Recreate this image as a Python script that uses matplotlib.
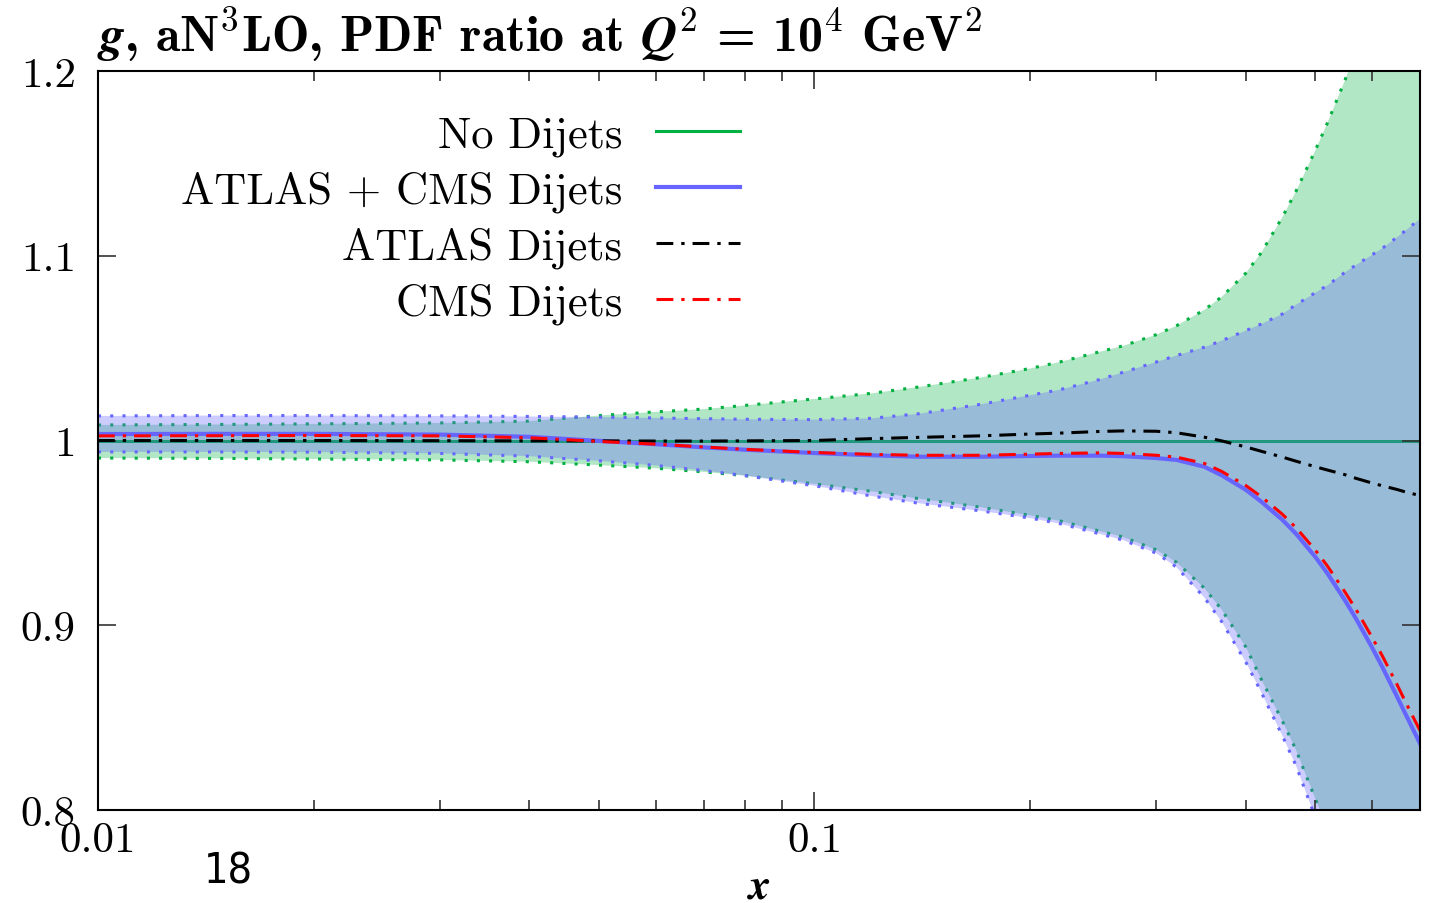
import matplotlib
matplotlib.use("Agg")
import matplotlib.pyplot as plt
from matplotlib.ticker import FixedLocator, NullFormatter

plt.rcParams['font.family'] = 'serif'
plt.rcParams['font.serif'] = ['cmr10']
plt.rcParams['mathtext.fontset'] = 'cm'
plt.rcParams['axes.unicode_minus'] = False

# x nodes and gluon PDF ratios to the No Dijets central value
x = [0.01, 0.015, 0.02, 0.03, 0.04, 0.05, 0.06, 0.07, 0.08, 0.1, 0.12, 0.14,
     0.17, 0.2, 0.22, 0.25, 0.27, 0.3, 0.32, 0.35, 0.37, 0.4, 0.42, 0.45,
     0.47, 0.5, 0.52, 0.55, 0.57, 0.6, 0.62, 0.65, 0.67, 0.7]

nodijet_c = [1.0] * len(x)
nodijet_hi = [1.0084, 1.0087, 1.009, 1.0095, 1.0105, 1.0135, 1.0155, 1.017, 1.019,
              1.0225, 1.0255, 1.029, 1.034, 1.039, 1.0425, 1.048, 1.0513, 1.0573,
              1.0621, 1.0707, 1.0777, 1.0906, 1.1015, 1.121, 1.135, 1.157, 1.172,
              1.195, 1.211, 1.236, 1.254, 1.282, 1.30, 1.33]
nodijet_lo = [0.9905, 0.9903, 0.99, 0.9895, 0.9885, 0.9867, 0.985, 0.983, 0.981,
              0.9765, 0.9725, 0.9685, 0.964, 0.9595, 0.9565, 0.951, 0.9477,
              0.9408, 0.9341, 0.9201, 0.9085, 0.8882, 0.871, 0.848, 0.8325, 0.806,
              0.79, 0.763, 0.745, 0.717, 0.698, 0.67, 0.65, 0.62]

both_c = [1.0035, 1.0036, 1.0036, 1.0032, 1.002, 0.9998, 0.998, 0.9963, 0.995,
          0.9932, 0.992, 0.9912, 0.9912, 0.9916, 0.9918, 0.9918, 0.9915, 0.9905,
          0.9895, 0.9858, 0.9812, 0.9733, 0.967, 0.957, 0.9495, 0.937, 0.928,
          0.9135, 0.9035, 0.888, 0.8775, 0.8615, 0.851, 0.836]
both_hi = [1.0133, 1.0135, 1.0135, 1.0133, 1.013, 1.0127, 1.0122, 1.0118, 1.0115,
           1.0113, 1.012, 1.0145, 1.0195, 1.0245, 1.0275, 1.033, 1.037, 1.0425,
           1.046, 1.0505, 1.054, 1.0595, 1.063, 1.0685, 1.0735, 1.080, 1.084,
           1.091, 1.095, 1.1005, 1.104, 1.110, 1.114, 1.12]
both_lo = [0.9938, 0.9938, 0.9937, 0.993, 0.9915, 0.989, 0.9865, 0.9838, 0.981,
           0.9755, 0.970, 0.966, 0.962, 0.958, 0.955, 0.9495, 0.946, 0.939,
           0.9315, 0.915, 0.902, 0.880, 0.864, 0.840, 0.824, 0.796, 0.778,
           0.750, 0.731, 0.701, 0.681, 0.652, 0.631, 0.60]

atlas_c = [1.0, 1.0, 1.0, 0.9999, 0.9998, 0.9998, 0.9997, 0.9997, 0.9998,
           1.0, 1.001, 1.0017, 1.0025, 1.0035, 1.004, 1.0049, 1.0052, 1.005,
           1.0042, 1.0018, 0.9998, 0.9965, 0.9942, 0.991, 0.9888, 0.9858, 0.984,
           0.9815, 0.9795, 0.977, 0.9755, 0.9735, 0.972, 0.9702]
cms_c = [1.0025, 1.0026, 1.0027, 1.0025, 1.0015, 0.9995, 0.998, 0.9965, 0.9952,
         0.9935, 0.9925, 0.992, 0.992, 0.9926, 0.993, 0.9933, 0.993, 0.992,
         0.991, 0.9876, 0.9833, 0.9756, 0.9697, 0.960, 0.9528, 0.9407, 0.932,
         0.918, 0.9085, 0.8935, 0.8835, 0.868, 0.8575, 0.843]

labels = ['No Dijets', 'ATLAS + CMS Dijets', 'ATLAS Dijets', 'CMS Dijets']
yticks = [0.8, 0.9, 1.0, 1.1, 1.2]
ytick_labels = ['0.8', '0.9', '1', '1.1', '1.2']

green = (0.0, 0.69, 0.25)
blue = '#6666ff'
dotted = (0, (1, 3))
dashdot = (0, (5.5, 2.6, 1.1, 2.6))
fs = 31

fig = plt.figure(figsize=(14.33, 9.04), dpi=100)
ax = fig.add_axes([98 / 1433, 1 - 811 / 904, (1420 - 98) / 1433, (811 - 72) / 904])

# No Dijets band, drawn first so the ATLAS + CMS band tints it
ax.fill_between(x, nodijet_lo, nodijet_hi, color=green, alpha=0.3, lw=0, zorder=1)
ax.plot(x, nodijet_hi, color=green, lw=2.2, ls=dotted, zorder=1.1)
ax.plot(x, nodijet_lo, color=green, lw=2.2, ls=dotted, zorder=1.1)
l1, = ax.plot(x, nodijet_c, color=green, lw=2.2, zorder=1.1)

# ATLAS + CMS band on top
ax.fill_between(x, both_lo, both_hi, color=blue, alpha=0.33, lw=0, zorder=1.2)
ax.plot(x, both_hi, color=blue, lw=2.2, ls=dotted, zorder=2)
ax.plot(x, both_lo, color=blue, lw=2.2, ls=dotted, zorder=2)
l2, = ax.plot(x, both_c, color=blue, lw=3, zorder=2)

l3, = ax.plot(x, atlas_c, color='black', lw=2.2, ls=dashdot, zorder=2.1)
l4, = ax.plot(x, cms_c, color='red', lw=2.2, ls=dashdot, zorder=2.2)

ax.set_xscale('log')
ax.set_xlim(0.01, 0.7)
ax.set_ylim(0.8, 1.2)
ax.xaxis.set_major_locator(FixedLocator([0.01, 0.1]))
ax.set_xticklabels(['0.01', '0.1'])
ax.xaxis.set_minor_locator(FixedLocator([0.02, 0.03, 0.04, 0.05, 0.06, 0.07, 0.08,
                                         0.09, 0.2, 0.3, 0.4, 0.5, 0.6, 0.7]))
ax.xaxis.set_minor_formatter(NullFormatter())
ax.yaxis.set_major_locator(FixedLocator(yticks))
ax.set_yticklabels(ytick_labels)

ax.tick_params(which='both', direction='in', top=True, right=True,
               labelsize=fs, color='#333333', width=1.2)
ax.tick_params(which='major', length=13)
ax.tick_params(which='minor', length=7)
ax.tick_params(axis='x', pad=8)
ax.tick_params(axis='y', pad=16)
for s in ax.spines.values():
    s.set_linewidth(1.5)
    s.set_zorder(3)

ax.set_xlabel(r'$\boldsymbol{x}$', fontsize=fs, labelpad=7)

leg = ax.legend([l1, l2, l3, l4], labels, loc='upper right', markerfirst=False,
                frameon=False, fontsize=32, handlelength=1.9, handletextpad=0.75,
                labelspacing=0.33, borderpad=0, borderaxespad=0,
                bbox_to_anchor=(740 / 1433, 1 - 116 / 904),
                bbox_transform=fig.transFigure)

fig.text(97 / 1433, 1 - 52 / 904,
         r'$\boldsymbol{g}$, aN$^3$LO, PDF ratio at $\boldsymbol{Q}^{\mathbf{2}}$ = 10$^{\mathbf{4}}$ GeV$^{\mathbf{2}}$',
         fontfamily='cmb10', fontsize=36, va='baseline')
fig.text(228 / 1433, 1 - 872 / 904, '18', fontsize=31, ha='center', va='center',
         fontfamily='DejaVu Sans', fontstretch='condensed')

fig.savefig('out.png', dpi=100)
